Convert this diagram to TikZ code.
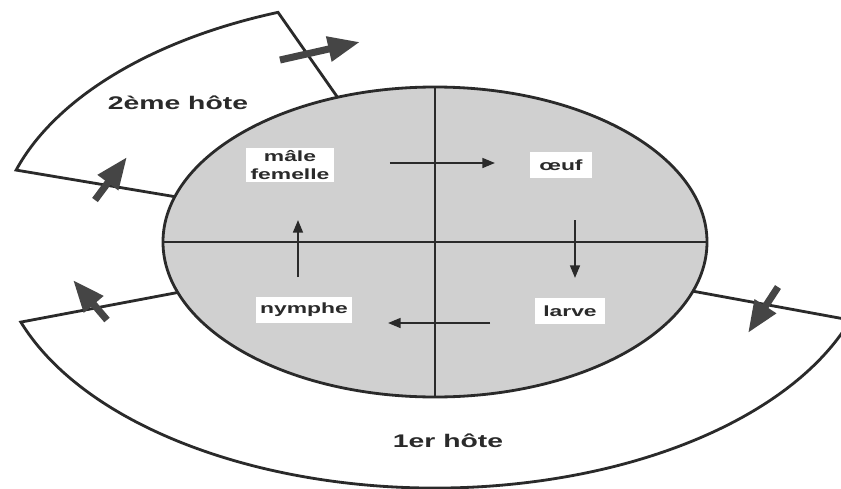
\documentclass[tikz,border=0pt]{standalone}
\usepackage{fontspec}
\newfontfamily\cyclefont[FakeStretch=1.55]{Liberation Sans}
\usepackage{tikz}
\usetikzlibrary{arrows.meta}
\definecolor{inkline}{HTML}{2A2A2A}
\definecolor{bodyfill}{HTML}{D0D0D0}
\definecolor{bigarrow}{HTML}{454545}
\tikzset{
  host/.style={draw=inkline, line width=2pt, fill=white, line join=miter},
  body/.style={draw=inkline, line width=2pt, fill=bodyfill},
  cross/.style={draw=inkline, line width=2pt},
  stage/.style={fill=white, inner xsep=3pt, inner ysep=2pt, minimum height=0.65cm,
                align=center, text=inkline,
                font=\cyclefont\bfseries\fontsize{10.5}{12.5}\selectfont},
  hostlbl/.style={text=inkline, font=\cyclefont\bfseries\fontsize{13}{15}\selectfont},
  arr/.style={-{Triangle[length=9pt, width=7pt]}, line width=1.5pt, draw=inkline},
  bigarr/.style={-{Triangle[length=0.8cm, width=0.6cm]}, line width=5pt, draw=bigarrow},
}

\begin{document}
\begin{tikzpicture}[x=0.025cm, y=0.025cm]
  \useasboundingbox (-435,-246) rectangle (406,242);

  % the two hosts
  \draw[host] (163:272 and 155) -- (163:438 and 246)
    arc[start angle=163, end angle=111, x radius=438, y radius=246] -- (111:272 and 155);
  \draw[host] (199:272 and 155) -- (199:438 and 246)
    arc[start angle=199, end angle=341.5, x radius=438, y radius=246] -- (341.5:272 and 155);

  % the cycle
  \coordinate (c) at (0,0);
  \coordinate (n) at (90:272 and 155);
  \coordinate (s) at (270:272 and 155);
  \coordinate (w) at (180:272 and 155);
  \coordinate (e) at (0:272 and 155);
  \draw[body] (c) ellipse [x radius=272, y radius=155];
  \draw[cross] (n) -- (s);
  \draw[cross] (w) -- (e);

  \node[hostlbl] (host2) at (-257,139) {2ème hôte};
  \node[hostlbl] (host1) at (13,-199) {1er hôte};
  \node[stage] (adult) at (-145,77) {mâle\\femelle};
  \node[stage, minimum width=1.55cm] (egg) at (126,77) {œuf};
  \node[stage, minimum width=1.75cm] (larva) at (135,-69) {larve};
  \node[stage] (nymph) at (-131,-68) {nymphe};

  % moults
  \coordinate (m1a) at (-45,79);   \coordinate (m1b) at (60,79);
  \coordinate (m2a) at (140,22);   \coordinate (m2b) at (140,-36);
  \coordinate (m3a) at (55,-81);   \coordinate (m3b) at (-47,-81);
  \coordinate (m4a) at (-137,-35); \coordinate (m4b) at (-137,22);
  \draw[arr] (m1a) -- (m1b);
  \draw[arr] (m2a) -- (m2b);
  \draw[arr] (m3a) -- (m3b);
  \draw[arr] (m4a) -- (m4b);

  % changes of host
  \coordinate (j1a) at (-155,182); \coordinate (j1b) at (-75,200);
  \coordinate (j2a) at (-340,42);  \coordinate (j2b) at (-308,85);
  \coordinate (j3a) at (-328,-78); \coordinate (j3b) at (-362,-38);
  \coordinate (j4a) at (343,-45);  \coordinate (j4b) at (313,-91);
  \draw[bigarr] (j1a) -- (j1b);
  \draw[bigarr] (j2a) -- (j2b);
  \draw[bigarr] (j3a) -- (j3b);
  \draw[bigarr] (j4a) -- (j4b);
\end{tikzpicture}
\end{document}
